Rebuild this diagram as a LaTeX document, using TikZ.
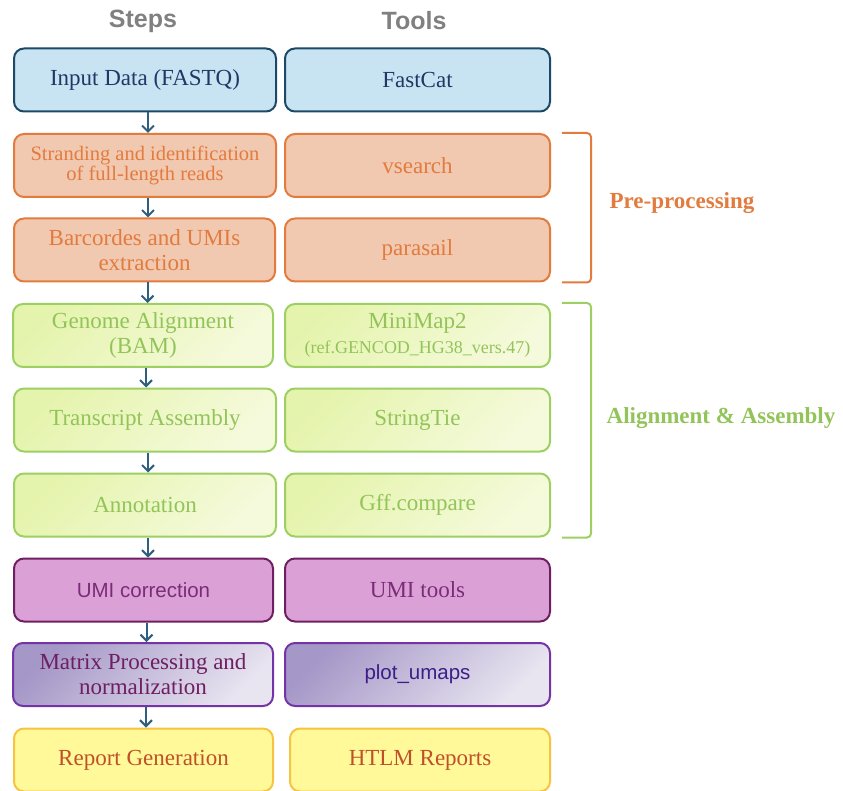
\documentclass[tikz,border=0pt]{standalone}
\usepackage{fontspec}
\setmainfont{Liberation Serif}
\newfontfamily\sansf{Liberation Sans}
\usetikzlibrary{arrows.meta,calc}
\definecolor{bluF}{HTML}{C8E4F2}
\definecolor{bluD}{HTML}{1C4966}
\definecolor{bluT}{HTML}{1F3864}
\definecolor{oraF}{HTML}{F1C8B0}
\definecolor{oraD}{HTML}{E27B3E}
\definecolor{oraT}{HTML}{E27B3E}
\definecolor{greA}{HTML}{E5F4AD}
\definecolor{greB}{HTML}{F5FADC}
\definecolor{greD}{HTML}{9DCF63}
\definecolor{greT}{HTML}{93C45A}
\definecolor{pinF}{HTML}{DBA1D6}
\definecolor{pinD}{HTML}{6E1F62}
\definecolor{pinT}{HTML}{7B2C78}
\definecolor{purA}{HTML}{A597C7}
\definecolor{purB}{HTML}{E8E4F0}
\definecolor{purD}{HTML}{7434A5}
\definecolor{purT}{HTML}{6E1F62}
\definecolor{purS}{HTML}{3B1E88}
\definecolor{yelF}{HTML}{FFF99A}
\definecolor{yelD}{HTML}{F6C342}
\definecolor{yelT}{HTML}{C0502A}
\definecolor{arrC}{HTML}{2E5F7F}
\definecolor{headC}{HTML}{808080}
\begin{document}
\begin{tikzpicture}[x=1pt,y=1pt,
  box/.style={rounded corners=10pt, line width=2pt, minimum height=63pt, align=center, inner sep=2pt, font=\fontsize{23}{25}\selectfont},
  blu/.style={box, draw=bluD, fill=bluF, text=bluT},
  ora/.style={box, draw=oraD, fill=oraF, text=oraT},
  gre/.style={box, draw=greD, top color=greA, bottom color=greB, shading angle=45, text=greT},
  pin/.style={box, draw=pinD, fill=pinF, text=pinT},
  pur/.style={box, draw=purD, top color=purA, bottom color=purB, shading angle=45, text=purT},
  yel/.style={box, draw=yelD, fill=yelF, text=yelT},
  arr/.style={draw=arrC, line width=2pt, -{Straight Barb[length=6pt,width=12pt,line width=2pt]}},
  head/.style={font=\sansf\bfseries\fontsize{25}{27}\selectfont, text=headC},
  brk/.style={line width=2pt, rounded corners=4pt},
  grp/.style={font=\bfseries\fontsize{23}{25}\selectfont}
]
\useasboundingbox (0,0) rectangle (843,-791);

\node[head] (hs) at (143,-21) {Steps};
\node[head] (ht) at (414,-21) {Tools};

% steps column
\node[blu, minimum width=262] (s1) at (145,-80) {Input Data (FASTQ)};
\node[ora, minimum width=262, font=\fontsize{20.5}{20}\selectfont] (s2) at (145,-165.5) {Stranding and identification\\of full-length reads};
\node[ora, minimum width=261] (s3) at (144.5,-250) {Barcordes and UMIs\\extraction};
\node[gre, minimum width=260] (s4) at (143,-335.5) {Genome Alignment\\(BAM)};
\node[gre, minimum width=262] (s5) at (145,-420) {Transcript Assembly};
\node[gre, minimum width=262] (s6) at (145,-505) {Annotation};
\node[pin, minimum width=259, font=\sansf\fontsize{20.5}{22}\selectfont] (s7) at (143.5,-590) {UMI correction};
\node[pur, minimum width=260] (s8) at (143,-674.5) {Matrix Processing and\\normalization};
\node[yel, minimum width=259] (s9) at (143.5,-760) {Report Generation};

% tools column
\node[blu, minimum width=265] (t1) at (417.5,-80) {FastCat};
\node[ora, minimum width=265] (t2) at (417.5,-165.5) {vsearch};
\node[ora, minimum width=265] (t3) at (417.5,-250) {parasail};
\node[gre, minimum width=265] (t4) at (417.5,-335.5) {MiniMap2\\{\fontsize{18}{20}\selectfont(ref.GENCOD\_HG38\_vers.47)}};
\node[gre, minimum width=265] (t5) at (417.5,-420) {StringTie};
\node[gre, minimum width=265] (t6) at (417.5,-505) {Gff.compare};
\node[pin, minimum width=265] (t7) at (417.5,-590) {UMI tools};
\node[pur, minimum width=265, text=purS, font=\sansf\fontsize{20.5}{22}\selectfont] (t8) at (417.5,-674.5) {plot\_umaps};
\node[yel, minimum width=260] (t9) at (420,-760) {HTLM Reports};

% arrows
\foreach \a/\b in {s1/s2,s2/s3,s3/s4,s4/s5,s5/s6,s6/s7,s7/s8,s8/s9}{
  \draw[arr] ([xshift=3pt]\a.south) -- ([xshift=3pt]\a.south |- \b.north);
}

% brackets
\coordinate (pa) at ($(t2.north east)+(11,0)$);
\coordinate (pb) at ($(t3.south east)+(11,0)$);
\draw[brk, draw=oraD] (pa) -- ++(29,0) |- (pb);
\coordinate (aa) at ($(t4.north east)+(11,0)$);
\coordinate (ab) at ($(t6.south east)+(11,0)$);
\draw[brk, draw=greD] (aa) -- ++(29,0) |- (ab);

\node[grp, text=oraD] (gp) at (682,-203) {Pre-processing};
\node[grp, text=greT] (ga) at (721,-418) {Alignment \& Assembly};
\end{tikzpicture}
\end{document}
